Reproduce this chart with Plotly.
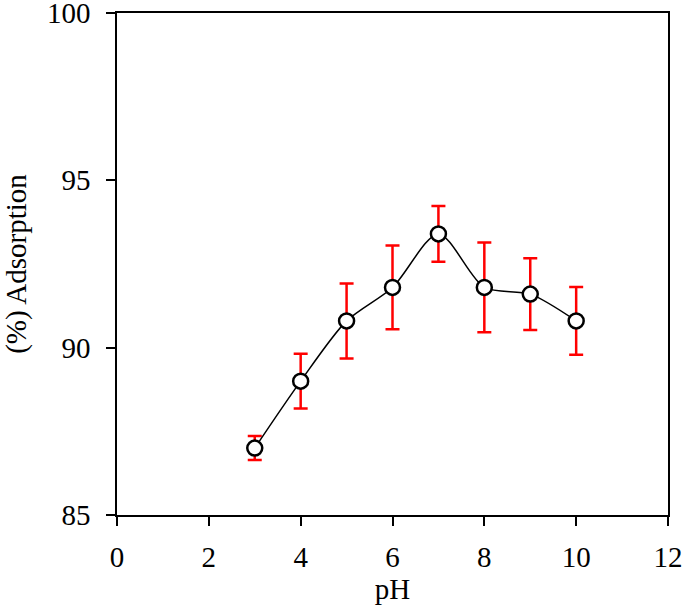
import plotly.graph_objects as go

ph = [3, 4, 5, 6, 7, 8, 9, 10]
adsorption = [87.0, 89.0, 90.8, 91.8, 93.4, 91.8, 91.6, 90.8]
err = [0.36, 0.82, 1.12, 1.25, 0.83, 1.34, 1.07, 1.01]

FONT = "Times New Roman, Liberation Serif, serif"

fig = go.Figure()
fig.add_trace(go.Scatter(
    x=ph, y=adsorption,
    mode="lines+markers",
    line=dict(color="black", width=1.5, shape="spline", smoothing=0.8),
    marker=dict(size=15, color="white", line=dict(color="black", width=2.5)),
    error_y=dict(type="data", array=err, color="red", thickness=2.5, width=7),
    showlegend=False,
))

axis_common = dict(
    showline=True, linecolor="black", linewidth=1.5, mirror=True,
    ticks="outside", ticklen=9, tickwidth=1.5, tickcolor="black",
    showgrid=False, zeroline=False, automargin=False,
    ticklabeloverflow="allow",
    tickfont=dict(family=FONT, size=29, color="black"),
)

fig.update_xaxes(range=[0, 12], dtick=2, ticklabelstandoff=6,
                 title=dict(text="pH", font=dict(family=FONT, size=29, color="black"), standoff=0),
                 **axis_common)
fig.update_yaxes(range=[85, 100], dtick=5, ticklabelstandoff=10,
                 title=dict(text="(%) Adsorption", font=dict(family=FONT, size=29, color="black"), standoff=17),
                 **axis_common)

fig.update_layout(
    width=685, height=613,
    margin=dict(l=117, r=17, t=13, b=98),
    plot_bgcolor="white", paper_bgcolor="white",
)

# drop the browser's default 8px body margin so the figure sits at the window corner
fig.write_html("out.html", config={"displayModeBar": False},
               post_script="document.body.style.margin='0';")
